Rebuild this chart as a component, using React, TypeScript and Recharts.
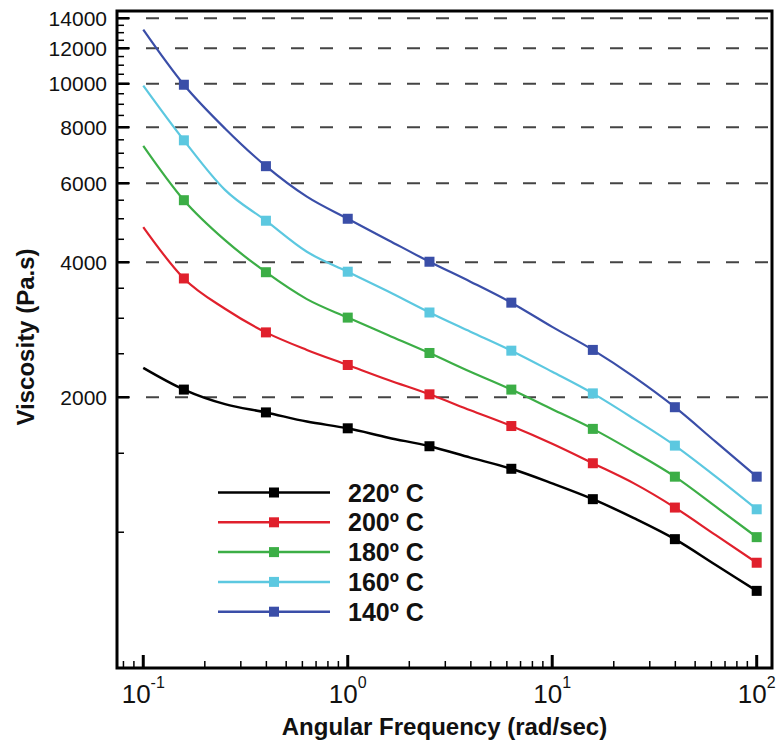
import {
  Legend,
  Line,
  LineChart,
  ReferenceArea,
  ReferenceLine,
  XAxis,
  YAxis,
} from "recharts";

// angular frequency (rad/sec), 5 points per decade
const frequency = [0.1, 0.158, 0.251, 0.398, 0.631, 1, 1.58, 2.51, 3.98, 6.31, 10, 15.8, 25.1, 39.8, 63.1, 100];
// frequencies carrying a square marker
const markerFrequency = [0.158, 0.398, 1, 2.51, 6.31, 15.8, 39.8, 100];

// viscosity (Pa.s) per temperature
const visc220 = [2325, 2080, 1930, 1850, 1765, 1705, 1625, 1555, 1467, 1385, 1285, 1185, 1075, 965, 845, 740];
const visc200 = [4790, 3680, 3150, 2790, 2550, 2360, 2185, 2030, 1870, 1725, 1575, 1425, 1285, 1135, 985, 855];
const visc180 = [7270, 5500, 4480, 3800, 3310, 3010, 2750, 2510, 2280, 2080, 1880, 1700, 1510, 1330, 1140, 975];
const visc160 = [9900, 7480, 5800, 4950, 4220, 3810, 3440, 3090, 2800, 2540, 2280, 2040, 1790, 1560, 1330, 1125];
const visc140 = [13200, 9950, 7950, 6550, 5600, 5000, 4480, 4010, 3620, 3250, 2870, 2550, 2220, 1900, 1590, 1330];

const xMajor = [0.1, 1, 10, 100];
const xMinor = [0.08, 0.09, 0.2, 0.3, 0.4, 0.5, 0.6, 0.7, 0.8, 0.9, 2, 3, 4, 5, 6, 7, 8, 9, 20, 30, 40, 50, 60, 70, 80, 90];
const yMajor = [2000, 4000, 6000, 8000, 10000, 12000, 14000];
const yMinor = [1000, 1500, 2500, 3000, 3500, 4500, 5000, 5500, 6500, 7000, 7500, 8500, 9000, 9500, 10500, 11000, 11500, 12500, 13000, 13500];

const xDomain = [0.0744, 118.8];
const yDomain = [498, 14530];

const series = [
  { key: "t220", name: "220º C", color: "#000000", values: visc220 },
  { key: "t200", name: "200º C", color: "#e0202c", values: visc200 },
  { key: "t180", name: "180º C", color: "#3cae46", values: visc180 },
  { key: "t160", name: "160º C", color: "#5cc8e0", values: visc160 },
  { key: "t140", name: "140º C", color: "#3a4ea8", values: visc140 },
];

const data = frequency.map((f, i) => {
  const row: any = { freq: f };
  series.forEach((s) => (row[s.key] = s.values[i]));
  return row;
});

const FONT = "'Liberation Sans', Arial, Helvetica, sans-serif";

function XTick({ x, y, payload }: any) {
  const v = payload.value;
  const major = xMajor.includes(v);
  return (
    <g>
      <line x1={x} x2={x} y1={y} y2={y - (major ? 13 : 7)} stroke="#000" strokeWidth={major ? 3 : 1.5} />
      {major && (
        <text x={x} y={y + 35} textAnchor="middle" fontSize={26} fontFamily={FONT} fill="#111">
          10
          <tspan dy={-15} fontSize={16}>
            {Math.round(Math.log10(v))}
          </tspan>
        </text>
      )}
    </g>
  );
}

function YTick({ x, y, payload }: any) {
  const major = yMajor.includes(payload.value);
  return (
    <g>
      <line x1={x} x2={x + (major ? 12 : 7)} y1={y} y2={y} stroke="#000" strokeWidth={major ? 2.5 : 1.5} />
      {major && (
        <text x={x - 10} y={y} dy="0.36em" textAnchor="end" fontSize={21} fontFamily={FONT} fill="#111">
          {payload.value}
        </text>
      )}
    </g>
  );
}

function YTitle() {
  return (
    <text
      x={34}
      y={337}
      transform="rotate(-90 34 337)"
      textAnchor="middle"
      fontSize={24}
      fontWeight="bold"
      fontFamily={FONT}
      fill="#111"
    >
      Viscosity (Pa.s)
    </text>
  );
}

function LegendBox() {
  return (
    <svg width={240} height={150}>
      {series.map((s, i) => {
        const cy = 15.5 + 29.8 * i;
        return (
          <g key={s.key}>
            <line x1={8} x2={120} y1={cy} y2={cy} stroke={s.color} strokeWidth={2.5} />
            <rect x={59} y={cy - 5} width={10} height={10} fill={s.color} />
            <text x={138} y={cy + 9} fontSize={25} fontWeight="bold" fontFamily={FONT} fill="#111">
              {s.name}
            </text>
          </g>
        );
      })}
    </svg>
  );
}

const squareDot = (color: string) => (props: any) => {
  const { cx, cy, payload, index } = props;
  if (!markerFrequency.includes(payload.freq)) return <g key={`n-${index}`} />;
  return <rect key={`m-${index}`} x={cx - 5} y={cy - 5} width={10} height={10} fill={color} />;
};

export default function App() {
  return (
    <div style={{ position: "absolute", left: 0, top: 0, width: 781, height: 740, background: "#fff" }}>
      <LineChart width={781} height={740} data={data} margin={{ top: 11, right: 9, bottom: 0, left: 0 }}>
        <XAxis
          dataKey="freq"
          type="number"
          scale="log"
          domain={xDomain}
          allowDataOverflow
          ticks={[...xMajor, ...xMinor]}
          interval={0}
          tick={(p: any) => <XTick {...p} />}
          tickLine={false}
          axisLine={false}
          tickSize={0}
          tickMargin={0}
          height={72}
          label={{
            value: "Angular Frequency (rad/sec)",
            position: "insideBottom",
            offset: 5,
            fontSize: 24,
            fontWeight: "bold",
            fontFamily: FONT,
            fill: "#111",
          }}
        />
        <YAxis
          type="number"
          scale="log"
          domain={yDomain}
          allowDataOverflow
          ticks={[...yMajor, ...yMinor]}
          interval={0}
          tick={(p: any) => <YTick {...p} />}
          tickLine={false}
          axisLine={false}
          tickSize={0}
          tickMargin={0}
          width={117}
          label={() => <YTitle />}
        />
        {yMajor.map((v) => (
          <ReferenceLine key={v} y={v} stroke="#444" strokeWidth={2} strokeDasharray="13 16" />
        ))}
        <ReferenceArea
          x1={xDomain[0]}
          x2={xDomain[1]}
          y1={yDomain[0]}
          y2={yDomain[1]}
          fill="none"
          fillOpacity={0}
          stroke="#000"
          strokeWidth={3}
          ifOverflow="visible"
        />
        {series.map((s) => (
          <Line
            key={s.key}
            type="monotone"
            dataKey={s.key}
            name={s.name}
            stroke={s.color}
            strokeWidth={s.key === "t220" ? 2.5 : 2.2}
            dot={squareDot(s.color)}
            activeDot={false}
            isAnimationActive={false}
          />
        ))}
        <Legend
          layout="vertical"
          align="center"
          verticalAlign="middle"
          wrapperStyle={{ left: 210, top: 477, width: 240, height: 150 }}
          content={() => <LegendBox />}
        />
      </LineChart>
    </div>
  );
}
